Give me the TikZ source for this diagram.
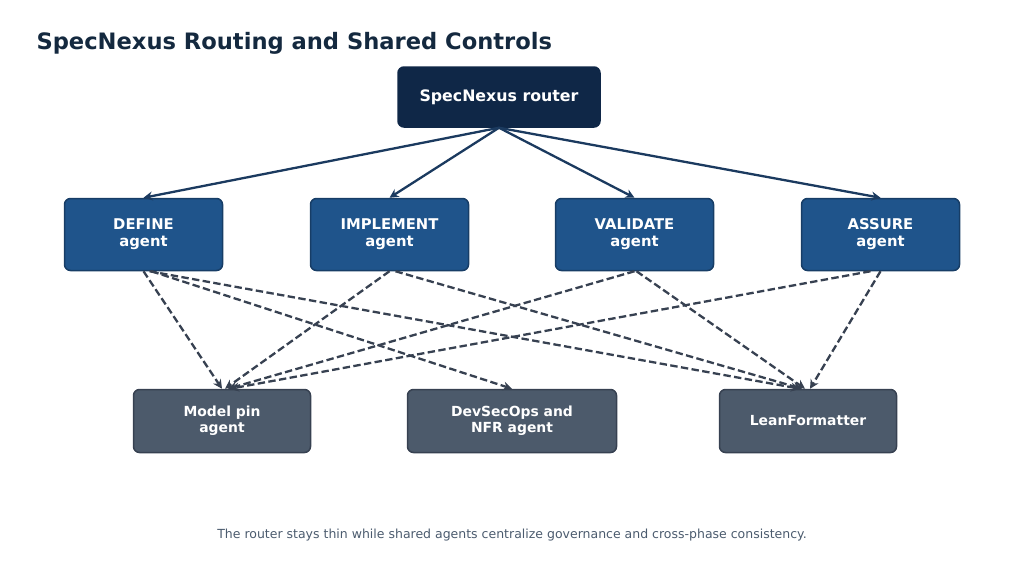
\documentclass[tikz,border=0pt]{standalone}
\usepackage{fontspec}
\setmainfont{DejaVu Sans}
\usepackage{xcolor}
\usetikzlibrary{arrows.meta}
\definecolor{navy}{HTML}{0F2747}
\definecolor{phaseblue}{HTML}{1F548B}
\definecolor{phaseedge}{HTML}{173D66}
\definecolor{slatefill}{HTML}{4C5A6B}
\definecolor{slateedge}{HTML}{374151}
\definecolor{titleink}{HTML}{14293F}
\definecolor{noteink}{HTML}{4B5B6E}
\definecolor{routeink}{HTML}{1B3A5F}
\tikzset{
	routerbox/.style={rectangle, draw=navy, fill=navy, text=white, rounded corners=6pt, line width=1.5pt, minimum width=202pt, minimum height=60pt, font=\fontsize{15.8}{18}\selectfont\bfseries},
	phasebox/.style={rectangle, draw=phaseedge, fill=phaseblue, text=white, align=center, rounded corners=6pt, line width=1.5pt, minimum width=158pt, minimum height=72pt, font=\fontsize{14.8}{17}\selectfont\bfseries},
	sharedbox/.style={rectangle, draw=slateedge, fill=slatefill, text=white, align=center, rounded corners=6pt, line width=1.5pt, minimum height=63pt, font=\fontsize{13.9}{16}\selectfont\bfseries},
	route/.style={draw=routeink, line width=2.3pt, -{Stealth[length=9pt, width=9pt]}},
	link/.style={draw=slateedge, line width=2.3pt, dash pattern=on 7.4pt off 3.4pt, -{Stealth[length=9pt, width=9pt]}}
}

\begin{document}
\begin{tikzpicture}[x=1pt, y=-1pt]
	% Canvas
	\useasboundingbox (0,0) rectangle (1024,579);
	
	% Title and caption
	\node[anchor=west, text=titleink, font=\fontsize{22.6}{26}\selectfont\bfseries] (title) at (33,43) {SpecNexus Routing and Shared Controls};
	\node[text=noteink, font=\fontsize{12.5}{15}\selectfont] (note) at (512,535) {The router stays thin while shared agents centralize governance and cross-phase consistency.};
	
	% Router
	\node[routerbox] (router) at (499,97) {SpecNexus router};
	
	% Phase agents
	\node[phasebox] (define) at (143.5,234.5) {DEFINE\\agent};
	\node[phasebox] (implement) at (389.5,234.5) {IMPLEMENT\\agent};
	\node[phasebox] (validate) at (634.5,234.5) {VALIDATE\\agent};
	\node[phasebox] (assure) at (880.5,234.5) {ASSURE\\agent};
	
	% Shared agents
	\node[sharedbox, minimum width=177pt] (modelpin) at (222,421) {Model pin\\agent};
	\node[sharedbox, minimum width=209pt] (devsecops) at (512,421) {DevSecOps and\\NFR agent};
	\node[sharedbox, minimum width=177pt] (lean) at (808,421) {LeanFormatter};
	
	% Router to phases
	\foreach \p in {define, implement, validate, assure}
		\draw[route] (router.south) -- (\p.north);
	
	% Phases to shared agents
	\draw[link] (define.south) -- (modelpin.north);
	\draw[link] ([xshift=8pt]define.south) -- (devsecops.north);
	\draw[link] ([xshift=6pt]define.south) -- ([xshift=-8pt]lean.north);
	\draw[link] (implement.south) -- ([xshift=3pt]modelpin.north);
	\draw[link] ([xshift=6pt]implement.south) -- ([xshift=-6pt]lean.north);
	\draw[link] (validate.south) -- ([xshift=6pt]modelpin.north);
	\draw[link] ([xshift=2pt]validate.south) -- ([xshift=-3pt]lean.north);
	\draw[link] ([xshift=-10pt]assure.south) -- ([xshift=8pt]modelpin.north);
	\draw[link] (assure.south) -- ([xshift=2pt]lean.north);
\end{tikzpicture}
\end{document}
